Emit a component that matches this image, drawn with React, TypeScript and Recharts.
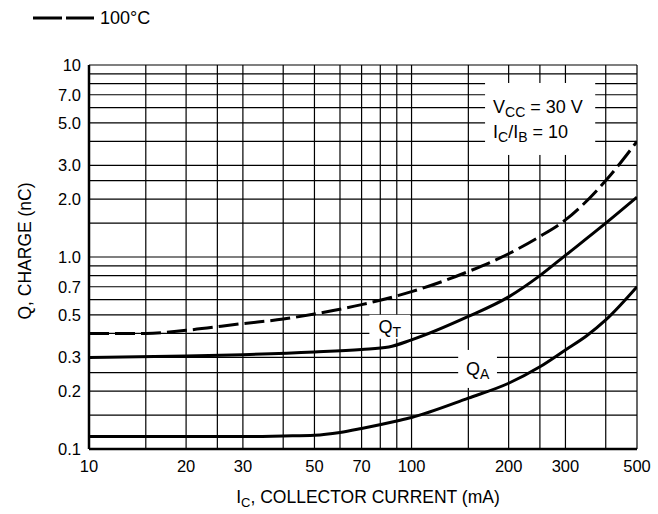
import React from "react"
import { Line, LineChart, ReferenceLine, XAxis, YAxis } from "recharts"

const FONT = "'Liberation Sans', Arial, Helvetica, sans-serif"

// collector current (mA) and charge (nC)
const icQT = [10, 20, 30, 50, 70, 85, 100, 150, 200, 250, 300, 400, 500]
const qT = [0.3, 0.305, 0.31, 0.32, 0.33, 0.34, 0.37, 0.49, 0.62, 0.8, 1.02, 1.5, 2.05]

const icHot = [10, 15, 20, 30, 40, 50, 70, 100, 150, 200, 250, 300, 400, 500]
const qTHot = [0.4, 0.4, 0.415, 0.45, 0.475, 0.505, 0.565, 0.66, 0.84, 1.04, 1.28, 1.56, 2.5, 4.0]

const icQA = [10, 30, 40, 50, 60, 70, 90, 100, 150, 200, 250, 300, 350, 400, 500]
const qA = [0.116, 0.116, 0.117, 0.118, 0.122, 0.128, 0.14, 0.146, 0.184, 0.22, 0.268, 0.328, 0.39, 0.47, 0.7]

const xTicks = [10, 20, 30, 50, 70, 100, 200, 300, 500]
const yTicks = [0.1, 0.2, 0.3, 0.5, 0.7, 1, 2, 3, 5, 7, 10]
const xGrid = [15, 20, 25, 30, 40, 50, 60, 70, 80, 90, 100, 150, 200, 250, 300, 400, 500]
const yGrid = [0.15, 0.2, 0.25, 0.3, 0.4, 0.5, 0.6, 0.7, 0.8, 0.9, 1, 1.5, 2, 2.5, 3, 4, 5, 6, 7, 8, 9, 10]

const toRows = (xs: number[], ys: number[]) => xs.map((x, i) => ({ x, q: ys[i] }))

const fmtY = (v: number) => (v === 10 ? "10" : v.toFixed(1))

function Blank({ viewBox }: any) {
  return <rect x={viewBox.x} y={viewBox.y} width={viewBox.width} height={viewBox.height} fill="#fff" />
}

function QLabel({ viewBox, sub }: any) {
  const cx = viewBox.x + viewBox.width / 2
  const cy = viewBox.y + viewBox.height / 2
  return (
    <g>
      <Blank viewBox={viewBox} />
      <text x={cx} y={cy + 6} textAnchor="middle" fontFamily={FONT} fontSize={18} fill="#000">
        Q
        <tspan fontSize={14} dy={4}>
          {sub}
        </tspan>
      </text>
    </g>
  )
}

function CondLabel({ viewBox }: any) {
  const x = viewBox.x + 8
  const y = viewBox.y
  return (
    <g fontFamily={FONT} fontSize={18} fill="#000">
      <Blank viewBox={viewBox} />
      <text x={x} y={y + 30}>
        V<tspan fontSize={14} dy={4}>CC</tspan>
        <tspan dy={-4}> = 30 V</tspan>
      </text>
      <text x={x} y={y + 55}>
        I<tspan fontSize={14} dy={4}>C</tspan>
        <tspan dy={-4}>/I</tspan>
        <tspan fontSize={14} dy={4}>B</tspan>
        <tspan dy={-4}> = 10</tspan>
      </text>
    </g>
  )
}

function XTitle({ viewBox }: any) {
  const cx = viewBox.x + viewBox.width / 2
  return (
    <text x={cx + 5} y={503} textAnchor="middle" fontFamily={FONT} fontSize={17.5} fill="#000">
      I<tspan fontSize={13} dy={4}>C</tspan>
      <tspan dy={-4}>, COLLECTOR CURRENT (mA)</tspan>
    </text>
  )
}

function YTitle({ viewBox }: any) {
  const cy = viewBox.y + viewBox.height / 2 - 6
  return (
    <text
      x={31}
      y={cy}
      transform={`rotate(-90 31 ${cy})`}
      textAnchor="middle"
      fontFamily={FONT}
      fontSize={17.5}
      fill="#000"
    >
      Q, CHARGE (nC)
    </text>
  )
}

export default function App() {
  return (
    <div style={{ position: "absolute", left: 0, top: 0, width: 658, height: 514, background: "#fff" }}>
      <div
        style={{
          position: "absolute",
          left: 33,
          top: 6,
          display: "flex",
          alignItems: "center",
          fontFamily: FONT,
          fontSize: 18,
        }}
      >
        <svg width={61} height={24} style={{ display: "block" }}>
          <line x1={0} y1={12} x2={61} y2={12} stroke="#000" strokeWidth={3} strokeDasharray="29 4" />
        </svg>
        <span style={{ marginLeft: 6 }}>100°C</span>
      </div>
      <LineChart width={658} height={514} margin={{ top: 65, right: 21, left: 29, bottom: 35 }}>
        {xGrid.map((v) => (
          <ReferenceLine key={`gx${v}`} x={v} stroke="#000" strokeWidth={1.2} />
        ))}
        {yGrid.map((v) => (
          <ReferenceLine key={`gy${v}`} y={v} stroke="#000" strokeWidth={1.2} />
        ))}
        <ReferenceLine
          segment={[{ x: 74, y: 0.5 }, { x: 99, y: 0.375 }]}
          stroke="none"
          label={<QLabel sub="T" />}
        />
        <ReferenceLine
          segment={[{ x: 139.5, y: 0.328 }, { x: 184, y: 0.208 }]}
          stroke="none"
          label={<QLabel sub="A" />}
        />
        <ReferenceLine
          segment={[{ x: 169, y: 8.06 }, { x: 371, y: 3.4 }]}
          stroke="none"
          label={<CondLabel />}
        />
        <XAxis
          dataKey="x"
          type="number"
          scale="log"
          domain={[10, 500]}
          ticks={xTicks}
          allowDataOverflow
          height={30}
          tickLine={false}
          tickMargin={5}
          axisLine={{ stroke: "#000", strokeWidth: 2.5 }}
          tick={{ fill: "#000", fontSize: 16.5, fontFamily: FONT }}
          label={<XTitle />}
        />
        <YAxis
          type="number"
          scale="log"
          domain={[0.1, 10]}
          ticks={yTicks}
          allowDataOverflow
          width={60}
          tickLine={false}
          tickFormatter={fmtY}
          axisLine={{ stroke: "#000", strokeWidth: 2.5 }}
          tick={{ fill: "#000", fontSize: 16.5, fontFamily: FONT }}
          label={<YTitle />}
        />
        <Line
          data={toRows(icHot, qTHot)}
          dataKey="q"
          type="monotone"
          stroke="#000"
          strokeWidth={3}
          strokeDasharray="20 6"
          dot={false}
          isAnimationActive={false}
        />
        <Line
          data={toRows(icQT, qT)}
          dataKey="q"
          type="monotone"
          stroke="#000"
          strokeWidth={3}
          dot={false}
          isAnimationActive={false}
        />
        <Line
          data={toRows(icQA, qA)}
          dataKey="q"
          type="monotone"
          stroke="#000"
          strokeWidth={3}
          dot={false}
          isAnimationActive={false}
        />
      </LineChart>
    </div>
  )
}
